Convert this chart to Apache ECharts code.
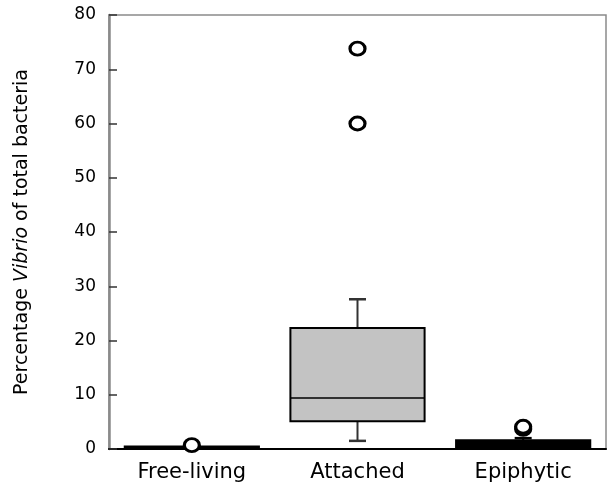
<!DOCTYPE html>
<html>
<head>
<meta charset="utf-8">
<script src="https://cdn.jsdelivr.net/npm/echarts@6/dist/echarts.min.js"></script>
<style>html,body{margin:0;padding:0;background:#fff}#c{width:608px;height:492px}</style>
</head>
<body>
<div id="c"></div>
<script>
const categories = ['Free-living', 'Attached', 'Epiphytic'];
const whiskerLow = [0.05, 1.5, 0.1];
const q1 = [0.05, 5.1, 0.15];
const median = [0.2, 9.4, 0.6];
const q3 = [0.45, 22.3, 1.6];
const whiskerHigh = [0.5, 27.6, 2.0];
const outliers = [[0, 0.7], [1, 73.8], [1, 60.0], [2, 3.7], [2, 4.1]];
const yTicks = [0, 10, 20, 30, 40, 50, 60, 70, 80];

const boxFill = ['#000000', '#c3c3c3', '#000000'];
const FONT = 'DejaVu Sans';

const boxData = categories.map((c, i) => [i, whiskerLow[i], q1[i], median[i], q3[i], whiskerHigh[i]]);

const chart = echarts.init(document.getElementById('c'), null, {renderer: 'canvas'});
chart.setOption({
  animation: false,
  backgroundColor: '#fff',
  grid: {left: 109, right: 2, top: 15, bottom: 43, show: true, borderColor: '#8a8a8a', borderWidth: 1.5, backgroundColor: 'transparent'},
  xAxis: {
    type: 'category',
    data: categories,
    boundaryGap: true,
    axisLine: {lineStyle: {color: '#000', width: 2}},
    axisTick: {inside: true, length: 6, lineStyle: {color: '#000', width: 1.5}},
    axisLabel: {color: '#000', fontFamily: FONT, fontSize: 21, margin: 13},
    splitLine: {show: false}
  },
  yAxis: {
    type: 'value',
    min: yTicks[0],
    max: yTicks[yTicks.length - 1],
    interval: 10,
    name: '{a|Percentage }{i|Vibrio}{a| of total bacteria}',
    nameLocation: 'middle',
    nameRotate: 90,
    nameGap: 77,
    nameTextStyle: {
      rich: {
        a: {fontFamily: FONT, fontSize: 19, color: '#000'},
        i: {fontFamily: FONT, fontSize: 19, color: '#000', fontStyle: 'italic'}
      }
    },
    axisLine: {show: true, lineStyle: {color: '#8a8a8a', width: 2.5}},
    axisTick: {show: true, inside: true, length: 8, lineStyle: {color: '#333', width: 1.5}},
    axisLabel: {color: '#000', fontFamily: FONT, fontSize: 17, margin: 13},
    splitLine: {show: false}
  },
  series: [
    {
      type: 'custom',
      data: boxData,
      encode: {x: 0, y: [1, 2, 3, 4, 5]},
      z: 3,
      renderItem: function (params, api) {
        const idx = api.value(0);
        const bw = api.size([1, 0])[0] * 0.81;
        const capW = 17;
        const lo = api.coord([idx, api.value(1)]);
        const pq1 = api.coord([idx, api.value(2)]);
        const pmed = api.coord([idx, api.value(3)]);
        const pq3 = api.coord([idx, api.value(4)]);
        const hi = api.coord([idx, api.value(5)]);
        const cx = lo[0];
        const fill = boxFill[params.dataIndex];
        const wcol = fill === '#000000' ? '#000' : '#333';
        return {
          type: 'group',
          children: [
            {type: 'line', shape: {x1: cx, y1: pq3[1], x2: cx, y2: hi[1]}, style: {stroke: wcol, lineWidth: 2}},
            {type: 'line', shape: {x1: cx, y1: pq1[1], x2: cx, y2: lo[1]}, style: {stroke: wcol, lineWidth: 2}},
            {type: 'line', shape: {x1: cx - capW / 2, y1: hi[1], x2: cx + capW / 2, y2: hi[1]}, style: {stroke: wcol, lineWidth: 2.5}},
            {type: 'line', shape: {x1: cx - capW / 2, y1: lo[1], x2: cx + capW / 2, y2: lo[1]}, style: {stroke: wcol, lineWidth: 2.5}},
            {type: 'rect', shape: {x: cx - bw / 2, y: pq3[1], width: bw, height: Math.max(pq1[1] - pq3[1], 1)},
              style: {fill: fill, stroke: '#000', lineWidth: 2}},
            {type: 'line', shape: {x1: cx - bw / 2, y1: pmed[1], x2: cx + bw / 2, y2: pmed[1]}, style: {stroke: '#000', lineWidth: 1.5}}
          ]
        };
      }
    },
    {
      type: 'scatter',
      data: outliers,
      symbol: 'circle',
      symbolSize: [15, 13],
      z: 4,
      itemStyle: {color: '#fff', borderColor: '#000', borderWidth: 3, opacity: 1}
    }
  ]
});
</script>
</body>
</html>
